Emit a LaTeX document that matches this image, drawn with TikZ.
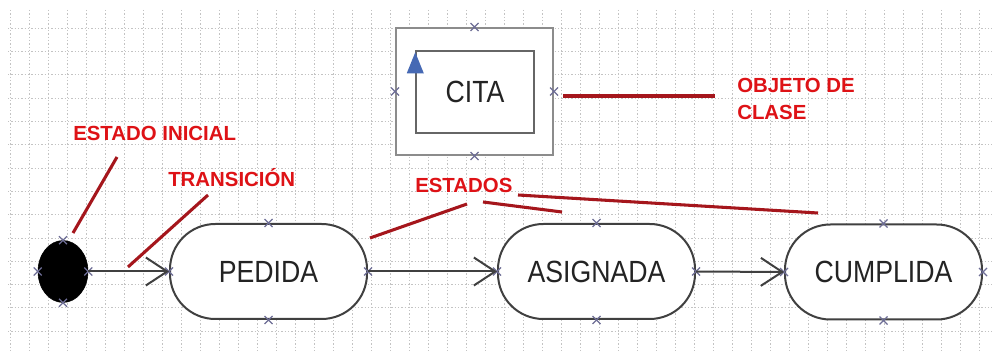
\documentclass[tikz,border=0pt]{standalone}
\usepackage{fontspec}
\setmainfont{Liberation Sans}
\usetikzlibrary{arrows.meta,shapes.geometric,calc}
\definecolor{lblred}{RGB}{222,18,22}
\definecolor{linered}{RGB}{165,22,28}
\definecolor{gridc}{RGB}{195,195,195}
\definecolor{outl}{RGB}{64,64,64}
\definecolor{txtc}{RGB}{35,35,35}
\definecolor{hcol}{RGB}{110,110,150}
\definecolor{trib}{RGB}{70,105,180}
\definecolor{citaoc}{RGB}{140,140,140}
\newcommand{\sqtxt}[1]{\scalebox{0.87}[1]{#1}}
\tikzset{
  gridline/.style={draw=gridc, line width=0.6pt, dash pattern=on 1pt off 1.5pt},
  stateb/.style={draw=outl, line width=1.5pt, fill=white, rounded corners=34pt,
    minimum width=147.75pt, minimum height=71.25pt, inner sep=0pt,
    font=\fontsize{23}{26}\selectfont, text=txtc},
  lbl/.style={text=lblred, font=\bfseries\fontsize{15.3}{18}\selectfont, inner sep=0pt, anchor=base west},
  rline/.style={draw=linered, line width=2.3pt},
  trans/.style={draw=outl, line width=1.5pt, -{Straight Barb[length=16pt,width=21pt,line width=1.5pt]}},
  hx/.pic={\draw[hcol,line width=1pt] (-4,-4)--(4,4) (-4,4)--(4,-4);}
}
\begin{document}
\begin{tikzpicture}[x=0.75pt,y=-0.75pt]
\useasboundingbox (0,0) rectangle (995,352);
\fill[white] (0,0) rectangle (995,352);
% grid
\foreach \i in {0,...,51} \draw[gridline] (10+19*\i,10) -- (10+19*\i,352);
\foreach \j in {1,...,14} \draw[gridline] (8,5+23.3*\j) -- (992,5+23.3*\j);
% class object
\node[draw=citaoc, line width=1.5pt, fill=white, minimum width=117.75pt, minimum height=95.25pt, inner sep=0pt] (cout) at (474.5,91.5) {};
\node[draw=outl!80, line width=1.1pt, fill=white, minimum width=88.5pt, minimum height=61.5pt, inner sep=0pt,
  font=\fontsize{23}{26}\selectfont, text=txtc] (cita) at (475,92) {\sqtxt{CITA}};
\fill[trib] ($(cita.north west)+(0,2)$) -- ++(8.5,21) -- ++(-17,0) -- cycle;
% states
\node[ellipse, fill=black, draw=black, minimum width=37.5pt, minimum height=46.5pt, inner sep=0pt] (ini) at (63,271.5) {};
\node[stateb] (ped) at (268.5,271.5) {\sqtxt{PEDIDA}};
\node[stateb] (asig) at (596.5,271.5) {\sqtxt{ASIGNADA}};
\node[stateb] (cump) at (883.5,272) {\sqtxt{CUMPLIDA}};
% handles
\foreach \n in {ini,ped,asig,cump,cout}
  \foreach \a in {north,south,east,west}
    \pic at (\n.\a) {hx};
% transitions
\draw[trans] (ini.east) -- (ped.west);
\draw[trans] (ped.east) -- (asig.west);
\draw[trans] (asig.east) -- (cump.west);
% labels
\node[lbl] (lei) at (73,141) {ESTADO INICIAL};
\node[lbl] (ltr) at (168,187) {TRANSICIÓN};
\node[lbl] (les) at (415,193) {ESTADOS};
\node[lbl] (lob1) at (737,93) {OBJETO DE};
\node[lbl] (lob2) at (737,120) {CLASE};
% red pointer lines
\coordinate (ei1) at (73,233); \coordinate (ei2) at (117,157);
\coordinate (tr1) at (128,267); \coordinate (tr2) at (208,195);
\coordinate (es1) at (370,238); \coordinate (es2) at (467,204);
\coordinate (es3) at (483,202); \coordinate (es4) at (562,212);
\coordinate (es5) at (518,195); \coordinate (es6) at (818,213);
\coordinate (ob1) at (563,96); \coordinate (ob2) at (715,96);
\draw[rline] (ei1) -- (ei2);
\draw[rline] (tr1) -- (tr2);
\draw[rline] (es1) -- (es2);
\draw[rline] (es3) -- (es4);
\draw[rline] (es5) -- (es6);
\draw[rline] (ob1) -- (ob2);
\end{tikzpicture}
\end{document}
